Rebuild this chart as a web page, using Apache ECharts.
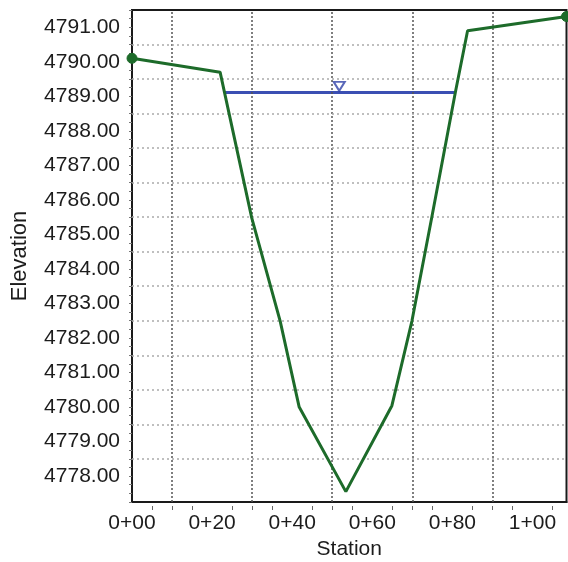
<!DOCTYPE html>
<html>
<head>
<meta charset="utf-8">
<script src="https://cdn.jsdelivr.net/npm/echarts@6/dist/echarts.min.js"></script>
<style>
html,body{margin:0;padding:0;background:#fff;}
#chart{width:568px;height:562px;}
</style>
</head>
<body>
<div id="chart"></div>
<script>
// Ground profile (station, elevation)
const stations   = [0, 22.0, 29.9, 37.0, 41.75, 53.4, 64.9, 69.9, 74.9, 80.75, 83.8, 108.5];
const elevations = [4790.10, 4789.70, 4785.48, 4782.49, 4780.00, 4777.55, 4780.04, 4782.49, 4785.52, 4789.12, 4790.90, 4791.31];
// Water surface
const wsStations = [23.25, 80.5];
const wsElevation = 4789.11;
const wsMarker = [51.75, 4789.29];
// Grid line positions
const xGridLines = [10, 30, 50, 70, 90];
const yGridLines = [4778.5, 4779.5, 4780.5, 4781.5, 4782.5, 4783.5, 4784.5, 4785.5, 4786.5, 4787.5, 4788.5, 4789.5, 4790.5];
// Axis extents
const xMin = 0, xMax = 108.5, xLabelStep = 20;
const yMin = 4777.25, yMax = 4791.5;

const FONT = "'Liberation Sans', Arial, sans-serif";
const TXT = '#1c1c1c';

function stationLabel(v) {
  if (Math.abs(v % xLabelStep) > 1e-6) return '';
  const h = Math.floor(v / 100);
  const r = Math.round(v - h * 100);
  return h + '+' + (r < 10 ? '0' + r : '' + r);
}

const chart = echarts.init(document.getElementById('chart'), null, {renderer: 'canvas'});
const lastIdx = stations.length - 1;

chart.setOption({
  animation: false,
  backgroundColor: '#fff',
  grid: {left: 132, top: 10, right: 1.5, bottom: 60, show: true, borderColor: '#1a1a1a', borderWidth: 2,
         backgroundColor: 'transparent', containLabel: false, outerBoundsMode: 'none'},
  xAxis: [
    {
      type: 'value', min: xMin, max: xMax, interval: xLabelStep,
      name: 'Station', nameLocation: 'middle', nameGap: 35,
      nameTextStyle: {fontFamily: FONT, fontSize: 21, color: TXT},
      axisLine: {show: true, lineStyle: {color: '#1a1a1a', width: 2}},
      axisTick: {show: false},
      splitLine: {show: false},
      axisLabel: {margin: 11, fontFamily: FONT, fontSize: 21, color: TXT, formatter: stationLabel, showMaxLabel: false}
    },
    {
      type: 'value', min: xMin, max: xMax, interval: xLabelStep, position: 'bottom', offset: 4,
      axisLine: {show: false}, axisTick: {show: false}, axisLabel: {show: false}, splitLine: {show: false},
      minorTick: {show: true, splitNumber: 4, length: 4, lineStyle: {color: '#666', width: 1}}
    }
  ],
  yAxis: [
    {
      type: 'value', min: yMin, max: yMax, splitNumber: 14,
      name: 'Elevation', nameLocation: 'middle', nameGap: 101, nameRotate: 90,
      nameTextStyle: {fontFamily: FONT, fontSize: 22, color: TXT},
      axisLine: {show: true, lineStyle: {color: '#1a1a1a', width: 2}},
      axisTick: {show: false},
      splitLine: {show: false},
      axisLabel: {margin: 12, fontFamily: FONT, fontSize: 21, color: TXT, padding: [4, 0, 0, 0],
        formatter: function (v) { return Math.abs(v - Math.round(v)) < 1e-6 ? v.toFixed(2) : ''; }}
    },
    {
      type: 'value', min: yMin, max: yMax, interval: 0.25, position: 'left', offset: 3,
      axisLine: {show: false}, axisLabel: {show: false}, splitLine: {show: false},
      axisTick: {show: true, length: 3, lineStyle: {color: '#777', width: 1}}
    }
  ],
  series: [
    {
      type: 'line', name: 'grid', data: [], z: 1, silent: true,
      markLine: {
        silent: true, symbol: 'none', label: {show: false}, animation: false,
        data: xGridLines.map(v => ({xAxis: v, lineStyle: {color: '#555', width: 1.5, type: [2, 2]}}))
          .concat(yGridLines.map(v => ({yAxis: v, lineStyle: {color: '#aaa', width: 1.5, type: [2, 3]}})))
      }
    },
    {
      type: 'line', name: 'Water', z: 3,
      data: wsStations.map(s => [s, wsElevation]),
      showSymbol: false, symbol: 'none',
      lineStyle: {color: '#3b4fb3', width: 3}
    },
    {
      type: 'scatter', name: 'WS marker', z: 4,
      data: [wsMarker],
      symbol: 'triangle', symbolRotate: 180, symbolSize: [11, 9],
      itemStyle: {color: '#fff', borderColor: '#2f41a8', borderWidth: 2}
    },
    {
      type: 'line', name: 'Ground', z: 5,
      data: stations.map((s, i) => [s, elevations[i]]),
      symbol: 'circle',
      symbolSize: function (val, p) { return (p.dataIndex === 0 || p.dataIndex === lastIdx) ? 10 : 0; },
      showAllSymbol: true,
      itemStyle: {color: '#1d6b2a', borderColor: '#1d6b2a'},
      lineStyle: {color: '#1d6b2a', width: 3}
    }
  ]
});
</script>
</body>
</html>
